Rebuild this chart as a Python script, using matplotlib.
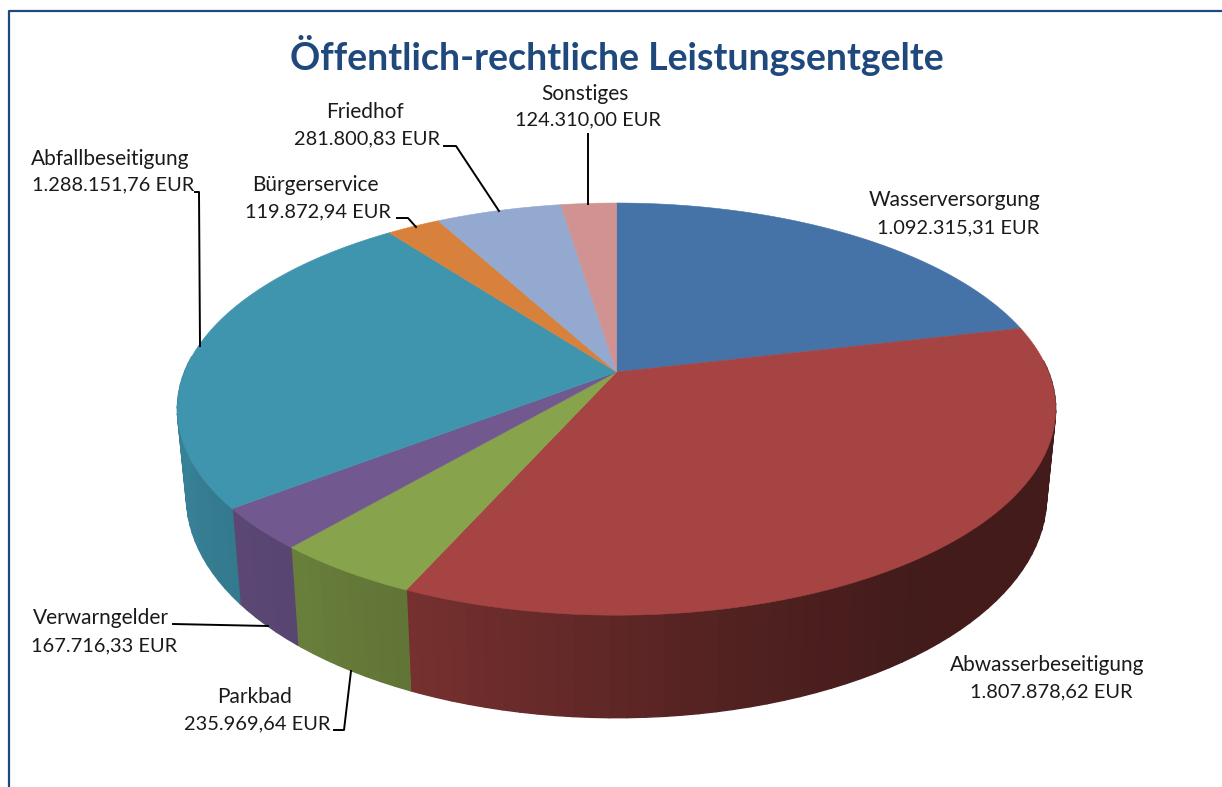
import numpy as np
from matplotlib import pyplot as plt
from matplotlib.collections import PolyCollection
from matplotlib.colors import to_rgb

title = "Öffentlich-rechtliche Leistungsentgelte"
names = ["Wasserversorgung", "Abwasserbeseitigung", "Parkbad", "Verwarngelder",
         "Abfallbeseitigung", "Bürgerservice", "Friedhof", "Sonstiges"]
values = [1092315.31, 1807878.62, 235969.64, 167716.33,
          1288151.76, 119872.94, 281800.83, 124310.00]
colors = ["#4572A7", "#A54442", "#87A34C", "#71588F",
          "#4095AE", "#D8813C", "#93A9CF", "#D19392"]

# label centres in pixels: name x, name y, value x, value y
label_pos = [(955, 200, 958, 228), (1047, 665, 1051, 692), (255, 697, 257, 724),
             (101, 618, 104, 646), (110, 159, 113, 185), (315, 185, 318, 212),
             (365, 112, 367, 139), (585, 94, 588, 120)]
leaders = [None, None,
           [(334, 730), (344, 730), (351, 671)],
           [(173, 624), (268, 626)],
           [(195, 192), (199, 192), (200, 346)],
           [(397, 218), (408, 218), (416, 227)],
           [(444, 146), (456, 146), (499, 211)],
           [(588, 134), (588, 204)]]

# perspective of the pie: apex x, apex y, half width, half height
persp = 0.18
top_disc = (616.5, 372, 432, 199.4)
low_disc = (616.5, 457, 423, 213.8)


def project(theta, disc):
    cx, cy, a, b = disc
    u, v = np.sin(theta), np.cos(theta)
    w = 1 + persp * v
    return cx + a * u / w, cy - b * v / w


def wall_shade(theta):
    return np.interp(np.sin(theta), [-1, -0.4, 0.2, 0.6, 1], [0.87, 0.71, 0.5, 0.4, 0.4])


def euro(x):
    s = f"{x:,.2f}".replace(",", "#").replace(".", ",").replace("#", ".")
    return s + " EUR"


plt.rcParams['font.family'] = ['Lato', 'DejaVu Sans']
fig = plt.figure(figsize=(12.22, 7.87), dpi=100)
ax = fig.add_axes([0, 0, 1, 1])
ax.set_xlim(0, 1222)
ax.set_ylim(787, 0)
ax.axis("off")

# frame of the chart area, only left and top are inside the crop
ax.plot([9, 9, 1222], [787, 11, 11], color="#1F497D", lw=1.6)

edges = np.concatenate([[0], np.cumsum(values)]) / np.sum(values) * 2 * np.pi

# outer wall first, the top surface covers what is hidden
for i, col in enumerate(colors):
    steps = np.arange(edges[i], edges[i + 1], np.radians(2))
    steps = np.append(steps, edges[i + 1])
    quads = []
    shades = []
    for t0, t1 in zip(steps[:-1], steps[1:]):
        if np.cos(t0) > 0.05 and np.cos(t1) > 0.05:
            continue
        x0, y0 = project(t0, top_disc)
        x1, y1 = project(t1, top_disc)
        x2, y2 = project(t1, low_disc)
        x3, y3 = project(t0, low_disc)
        quads.append([(x0, y0), (x1, y1), (x2, y2), (x3, y3)])
        shades.append(tuple(c * wall_shade((t0 + t1) / 2) for c in to_rgb(col)))
    if quads:
        ax.add_collection(PolyCollection(quads, facecolors=shades, edgecolors=shades, linewidths=1.0))

for i, col in enumerate(colors):
    t = np.linspace(edges[i], edges[i + 1], 200)
    xs, ys = project(t, top_disc)
    xs = np.concatenate([[top_disc[0]], xs])
    ys = np.concatenate([[top_disc[1]], ys])
    ax.fill(xs, ys, facecolor=col, edgecolor=col, lw=0.4)

for i, name in enumerate(names):
    nx, ny, vx, vy = label_pos[i]
    ax.text(nx, ny, name, ha="center", va="center", fontsize=15, color="#1a1a1a")
    ax.text(vx, vy, euro(values[i]), ha="center", va="center", fontsize=14.4, color="#1a1a1a")
    if leaders[i]:
        lx, ly = zip(*leaders[i])
        ax.plot(lx, ly, color="black", lw=1.4)

ax.text(617, 56, title, ha="center", va="center", fontsize=27, fontweight="bold", color="#1F497D")

plt.savefig("out.png", dpi=100)
